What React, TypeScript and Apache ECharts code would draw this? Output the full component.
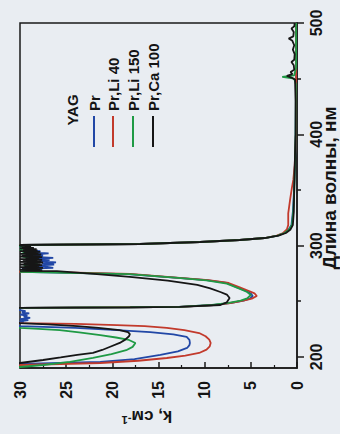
import React, { useEffect, useRef } from "react";
import * as echarts from "echarts";

const FONT = '"Liberation Sans", Arial, Helvetica, sans-serif';

// Axis tick labels
const kTicks = [0, 5, 10, 15, 20, 25, 30];
const lambdaLabels = [200, 300, 400, 500];
const lambdaMinorTicks = [250, 350, 450];

const legendTitle = "YAG";
const seriesNames = ["Pr", "Pr,Li 40", "Pr,Li 150", "Pr,Ca 100"];
const seriesColors = ["#2147a6", "#c23a2c", "#1f9a45", "#161616"];

// [wavelength nm, k cm^-1]; k = 31 marks off-scale (saturated) values
const pr: [number, number][] = [
  [190, 31], [193.6, 30], [195.4, 21.3], [198, 17.6], [201.7, 14.8], [205, 12.9], [208, 11.9], [210.5, 11.65],
  [212.5, 11.6], [215.2, 11.65], [217.9, 11.95], [220.2, 13.4], [222.3, 15.9], [224.1, 19.5], [226, 24], [227.7, 30], [228.2, 31],
  [230.8, 31], [231.2, 29.6], [232, 30], [233, 29.1], [234, 30], [235, 28.9], [236, 29.6], [237, 29.2], [238, 30],
  [239, 29], [240, 29.8], [241, 29.4], [242, 30], [242.5, 31],
  [243.6, 31], [244, 30], [244.6, 18], [245, 12.8], [246.6, 9], [248.5, 7.1], [250.5, 5.8], [252.4, 5.1], [254.7, 4.8],
  [257, 5.0], [259.2, 5.5], [262.5, 6.5], [266.4, 7.6], [269, 9.8], [271, 12.9], [274.4, 18.3], [276, 27], [276.3, 30],
  [277, 29.4], [278, 27.6], [279, 29.8], [280, 26.4], [281, 27.2], [282, 28.4], [283, 26.3], [284, 27.6], [285, 26.1],
  [286, 27.9], [287, 26.8], [288, 28.3], [289, 26.4], [290, 28.8], [291, 27.5], [292, 28.7], [293, 26.9], [294, 29.2],
  [295, 27.8], [296, 29.5], [297, 28.9], [298, 29.6], [299, 30],
  [300.5, 30], [301.4, 17], [303.2, 10.5], [305, 6.2], [306.8, 3.5], [309, 2.1], [311.3, 1.4], [314.5, 0.9], [318.5, 0.6],
  [330, 0.45], [345, 0.35], [360, 0.28], [380, 0.2], [400, 0.15], [450, 0.1], [500, 0.1],
];

const prLi40: [number, number][] = [
  [190, 31], [192.7, 30], [194.5, 21.3], [196.5, 17.2], [199, 14.1], [201.2, 12.1], [203.5, 10.6], [206.5, 9.8],
  [209.5, 9.45], [212.5, 9.35], [215.5, 9.5], [218.5, 9.9], [221.4, 10.6], [224, 12.2], [226, 14.1], [227.6, 16.5],
  [228.6, 19.5], [229.6, 24], [230.4, 30], [231, 31],
  [243.5, 31], [244, 30], [244.6, 18], [244.9, 12.7], [246.5, 9], [248.4, 7.2], [250.5, 5.8], [252.3, 4.9], [254.7, 4.35],
  [257, 4.6], [259.2, 5.2], [262.5, 6.2], [266.4, 7.4], [269, 9.6], [271, 12.7], [274.5, 18.1], [276.3, 27.3], [276.5, 30], [277, 31],
  [300, 31], [300.5, 30], [301.4, 17], [303.2, 10.5], [305, 6.2], [306.8, 3.5], [309, 2.2], [311.3, 1.5], [314.5, 1.1],
  [318.5, 0.95], [329, 0.95], [341, 0.75], [352, 0.55], [359, 0.4], [372, 0.25], [386, 0.18], [400, 0.12], [450, 0.1], [500, 0.1],
];

const prLi150: [number, number][] = [
  [190, 31], [190.9, 30], [192.7, 27.5], [195.5, 24.6], [199, 22.1], [202.5, 20.1], [206, 18.5], [209, 17.8], [212.5, 17.5],
  [215.2, 18.2], [217.4, 19.6], [219.6, 21.3], [222, 23.6], [224.1, 25.7], [225.2, 28], [226, 30], [226.5, 31],
  [243.5, 31], [244, 30], [244.6, 18], [245, 12.8], [246.6, 9.2], [248.5, 7.4], [250.5, 6.1], [252.5, 5.4], [255.6, 5.0],
  [258.3, 5.4], [261.5, 6.3], [265.8, 7.6], [268.7, 9.8], [271, 12.9], [274.3, 18.2], [276, 27.5], [276.3, 30],
  [278, 29.3], [280, 28.4], [282, 29.6], [284, 28.1], [286, 29.2], [288, 28.5], [290, 29.7], [292, 28.9], [294, 29.6],
  [296, 30], [298, 29.5], [299, 30],
  [300.5, 30], [301.4, 17], [303.2, 10.5], [305, 6.2], [306.8, 3.5], [309, 2.1], [311.3, 1.35], [314.5, 0.85], [318.5, 0.55],
  [330, 0.4], [350, 0.3], [380, 0.2], [400, 0.15], [445, 0.12], [450, 0.3], [451.5, 1.6], [453, 0.3], [460, 0.1], [500, 0.1],
];

const prCa100: [number, number][] = [
  [190, 31], [194.5, 30], [197.2, 27.5], [199.5, 25.6], [201.7, 23.8], [203.5, 22.1], [206.2, 21.1], [208.9, 20.3],
  [212.5, 19.2], [215.5, 18.6], [218.5, 18.2], [220.5, 18.1], [222.3, 18.3], [224.1, 19.2], [226, 21.5], [227.7, 23.8],
  [229.2, 27], [230.4, 30], [231, 31],
  [243.5, 31], [244, 30], [244.5, 18.1], [244.9, 12.7], [246.6, 8.3], [249, 7.6], [252.9, 7.3], [256, 7.6], [258.3, 8.3],
  [261.5, 9.4], [264.6, 10.8], [268.5, 14], [271.8, 18.1], [274.5, 22], [277, 26], [277.3, 30],
  [277.6, 27.6], [278.2, 30], [278.8, 27.8], [279.4, 29.8], [280, 27.5], [280.6, 30], [281.2, 27.9], [281.8, 29.5],
  [282.4, 27.6], [283, 30], [283.6, 27.8], [284.2, 29.6], [284.8, 27.5], [285.4, 30], [286, 27.7], [286.6, 29.7],
  [287.2, 27.6], [287.8, 30], [288.4, 27.9], [289, 29.4], [289.6, 27.6], [290.2, 30], [290.8, 27.8], [291.4, 29.8],
  [292, 27.7], [292.6, 30], [293.2, 28], [293.8, 29.6], [294.4, 27.8], [295, 30], [295.6, 28.1], [296.2, 29.7],
  [296.8, 28.2], [297.4, 30], [298, 28.5], [298.6, 29.8], [299.2, 28.8], [299.8, 30],
  [300.5, 30], [301.4, 17], [303.2, 10.5], [305, 6.2], [306.8, 3.5], [309, 2.0], [311.3, 1.2], [314.5, 0.7], [318.5, 0.45],
  [330, 0.35], [350, 0.3], [380, 0.22], [400, 0.15], [430, 0.15], [445, 0.2], [449, 0.2], [451, 0.6], [452.5, 1.1],
  [454, 0.5], [456, 0.7], [458, 0.3], [462, 0.35], [465, 0.6], [467, 0.3], [472, 0.25], [476, 0.45], [480, 0.3],
  [484, 0.5], [486, 0.9], [488, 0.4], [492, 0.35], [495, 0.6], [497, 0.3], [500, 0.25],
];

const seriesData = [pr, prLi40, prLi150, prCa100];

export default function App() {
  const ref = useRef<HTMLDivElement>(null);

  useEffect(() => {
    if (!ref.current) return;
    const chart = echarts.init(ref.current, undefined, { renderer: "svg" });

    const legendX = [94, 113, 133, 153];
    const graphics: any[] = [
      {
        type: "text",
        x: 72,
        y: 110,
        rotation: Math.PI / 2,
        style: { text: legendTitle, font: `bold 15px ${FONT}`, fill: "#141414", align: "center", verticalAlign: "middle" },
      },
      {
        type: "text",
        x: 147,
        y: 416,
        rotation: Math.PI,
        style: {
          text: "{a|k, см}{s|-1}",
          align: "center",
          verticalAlign: "middle",
          rich: {
            a: { font: `bold 17px ${FONT}`, fill: "#141414" },
            s: { font: `bold 11px ${FONT}`, fill: "#141414", verticalAlign: "top", padding: [0, 0, 8, 0] },
          },
        },
      },
      {
        type: "text",
        x: 329,
        y: 188,
        rotation: Math.PI / 2,
        style: { text: "Длина волны, нм", font: `bold 19px ${FONT}`, fill: "#141414", align: "center", verticalAlign: "middle" },
      },
    ];
    seriesNames.forEach((name, i) => {
      graphics.push({
        type: "line",
        shape: { x1: legendX[i], y1: 147, x2: legendX[i], y2: 116 },
        style: { stroke: seriesColors[i], lineWidth: 2 },
      });
      graphics.push({
        type: "text",
        x: legendX[i],
        y: 111,
        rotation: Math.PI / 2,
        style: { text: name, font: `bold 15px ${FONT}`, fill: "#141414", align: "left", verticalAlign: "middle" },
      });
    });

    const labelStyle = { color: "#141414", fontSize: 16, fontWeight: "bold" as const, fontFamily: FONT };

    chart.setOption({
      animation: false,
      backgroundColor: "#e9edf2",
      grid: { left: 20, right: 43, top: 23, bottom: 66, show: true, borderColor: "#1a1a1a", borderWidth: 1.5 },
      xAxis: [
        {
          type: "value",
          min: 0,
          max: 30,
          interval: 5,
          inverse: true,
          position: "bottom",
          axisLine: { show: true, lineStyle: { color: "#1a1a1a", width: 1.5 } },
          axisTick: { show: true, inside: true, length: 6, lineStyle: { color: "#1a1a1a", width: 1.5 } },
          minorTick: { show: true, splitNumber: 2, length: 3, lineStyle: { color: "#1a1a1a", width: 1.2 } },
          axisLabel: { ...labelStyle, rotate: 90, margin: 13, customValues: kTicks },
          splitLine: { show: false },
        },
      ],
      yAxis: [
        {
          type: "value",
          min: 190,
          max: 500,
          position: "right",
          axisLine: { show: true, lineStyle: { color: "#1a1a1a", width: 1.5 } },
          axisTick: { show: true, inside: false, length: 7, customValues: lambdaLabels, lineStyle: { color: "#1a1a1a", width: 1.5 } },
          axisLabel: { ...labelStyle, rotate: 90, margin: 11, customValues: lambdaLabels },
          splitLine: { show: false },
        },
        {
          type: "value",
          min: 190,
          max: 500,
          position: "right",
          axisLine: { show: false },
          axisTick: { show: true, inside: false, length: 4, customValues: lambdaMinorTicks, lineStyle: { color: "#1a1a1a", width: 1.5 } },
          axisLabel: { show: false },
          splitLine: { show: false },
        },
      ],
      graphic: graphics,
      series: [0, 1, 2, 3].map((i) => ({
        name: seriesNames[i],
        type: "line",
        xAxisIndex: 0,
        yAxisIndex: 0,
        data: seriesData[i].map(([lam, k]) => [k, lam]),
        showSymbol: false,
        symbol: "none",
        clip: true,
        lineStyle: { color: seriesColors[i], width: 1.8 },
        z: 2 + i,
      })),
    });

    return () => chart.dispose();
  }, []);

  return (
    <div
      ref={ref}
      style={{ position: "absolute", left: 0, top: 0, width: 340, height: 434 }}
    />
  );
}
